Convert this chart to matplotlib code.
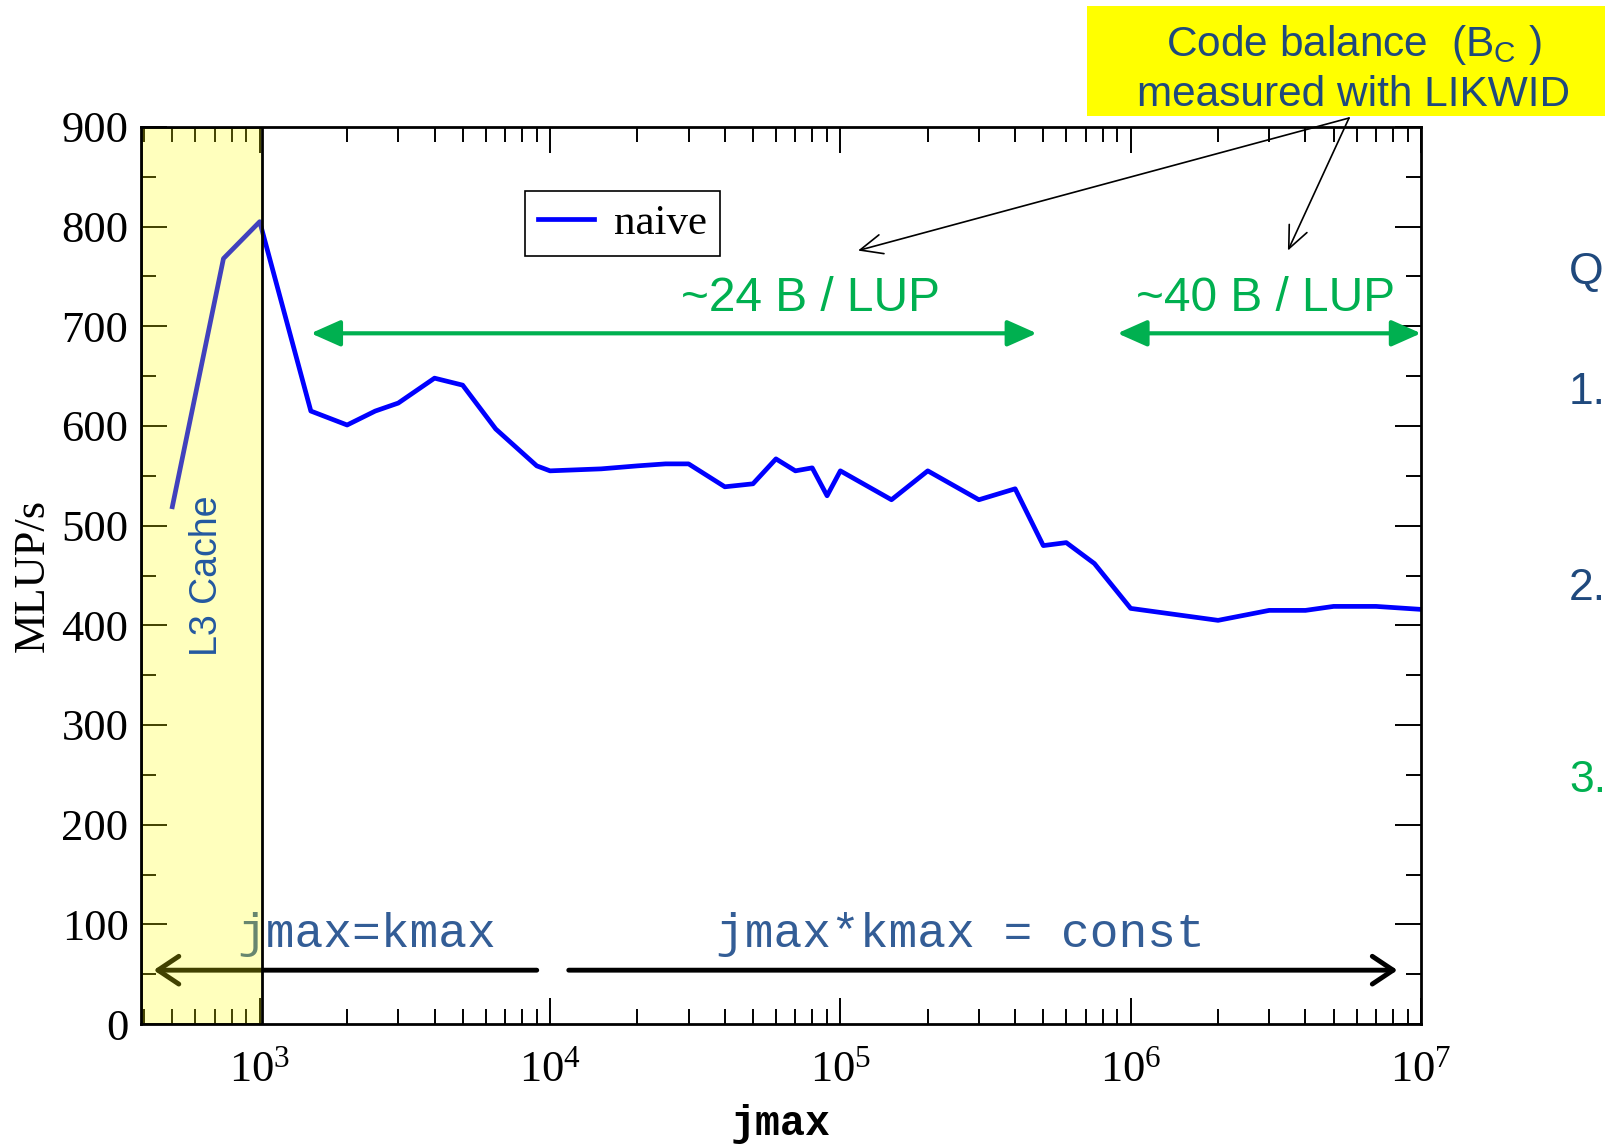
import numpy as np
import matplotlib
matplotlib.use('Agg')
import matplotlib.pyplot as plt
from matplotlib.patches import Rectangle
from matplotlib.ticker import LogLocator, MultipleLocator, NullFormatter

# naive kernel, performance vs. inner dimension
jmax = [500, 750, 1000, 1500, 2000, 2500, 3000, 4000, 5000, 6500, 9000,
        10000, 15000, 20000, 25000, 30000, 40000, 50000, 60000, 70000,
        80000, 90000, 100000, 150000, 200000, 300000, 400000, 500000,
        600000, 750000, 1000000, 2000000, 3000000, 4000000, 5000000,
        7000000, 10000000]
mlups = [519, 768, 805, 615, 601, 615, 623, 648, 641, 597, 560,
         555, 557, 560, 562, 562, 539, 542, 567, 555,
         558, 530, 555, 526, 555, 526, 537, 480,
         483, 462, 417, 405, 415, 415, 419,
         419, 416]
series_name = 'naive'

# regions marked on the plot
l3_end = 1020
range_24 = (1500, 4.75e5)
range_40 = (9.0e5, 1.0e7)
range_square = (431, 9000)
range_const = (11600, 8.3e6)

W, H = 1605, 1146
def fx(x):
    return x / W
def fy(y):
    return 1 - y / H

DARKBLUE = '#1F497D'
GREEN = '#00B050'
CODEBLUE = '#335D96'

plt.rcParams['font.family'] = 'Liberation Serif'
plt.rcParams['mathtext.default'] = 'regular'

fig = plt.figure(figsize=(W / 100, H / 100), dpi=100)
ax = fig.add_axes([fx(141), fy(1024), fx(1421) - fx(141), fy(127) - fy(1024)])

ax.plot(jmax, mlups, color='#0000FF', lw=3.4, label=series_name, zorder=2)

ax.set_xscale('log')
ax.set_xlim(390, 1e7)
ax.set_ylim(0, 900)
ax.yaxis.set_major_locator(MultipleLocator(100))
ax.yaxis.set_minor_locator(MultipleLocator(50))
ax.xaxis.set_minor_locator(LogLocator(base=10, subs=np.arange(2, 10)))
ax.xaxis.set_minor_formatter(NullFormatter())
ax.tick_params(which='both', direction='in', top=True, right=True,
               width=1.4, color='black', labelsize=32)
ax.tick_params(which='major', length=19)
ax.tick_params(which='minor', length=10.5)
ax.tick_params(axis='y', pad=9)
ax.tick_params(axis='x', pad=19)
for s in ax.spines.values():
    s.set_linewidth(2)

ax.set_xlabel('jmax', family='Liberation Mono', fontweight='bold',
              fontsize=30, labelpad=10)
ax.set_ylabel('MLUP/s', fontsize=32, labelpad=6)

leg = ax.legend(loc='upper left', bbox_to_anchor=(0.3, 0.929),
                borderaxespad=0, fancybox=False, edgecolor='black',
                framealpha=1, handlelength=1.3, borderpad=0.3,
                handletextpad=0.47, fontsize=31)
leg.get_frame().set_linewidth(1.2)

# bandwidth ranges
green_arrow = dict(arrowstyle='<|-|>,head_length=0.9,head_width=0.4',
                   mutation_scale=20, color=GREEN, lw=3,
                   shrinkA=0, shrinkB=0)
ax.annotate('', xy=(range_24[0], 693), xytext=(range_24[1], 693),
            arrowprops=green_arrow)
ax.annotate('', xy=(range_40[0], 693), xytext=(range_40[1], 693),
            arrowprops=green_arrow, annotation_clip=False)
ax.text(7.9e4, 728, '~24 B / LUP', ha='center', va='center',
        family='Liberation Sans', fontsize=34.5, color=GREEN)
ax.text(2.92e6, 728, '~40 B / LUP', ha='center', va='center',
        family='Liberation Sans', fontsize=34.5, color=GREEN)

# problem size regimes
black_arrow = dict(arrowstyle='->,head_length=0.6,head_width=0.4',
                   mutation_scale=25, color='black', lw=3.5,
                   shrinkA=0, shrinkB=0)
ax.annotate('', xy=(range_square[0], 54), xytext=(range_square[1], 54),
            arrowprops=black_arrow)
ax.annotate('', xy=(range_const[1], 54), xytext=(range_const[0], 54),
            arrowprops=black_arrow)
ax.text(836, 90, 'jmax=kmax', ha='left', va='center',
        family='Liberation Mono', fontsize=34.5, color=CODEBLUE)
ax.text(37400, 90, 'jmax*kmax = const', ha='left', va='center',
        family='Liberation Mono', fontsize=34.5, color=CODEBLUE)

# L3 cache shading
ax.axvspan(ax.get_xlim()[0], l3_end, facecolor=(1, 1, 0, 0.26),
           edgecolor='black', lw=2, zorder=4)
ax.text(658, 450, 'L3 Cache', rotation=90, ha='center', va='center',
        family='Liberation Sans', fontsize=27, color='#2358A0', zorder=6)

# code balance callout
fig.add_artist(Rectangle((fx(1087), fy(116)), fx(W) - fx(1087) + 0.01,
                         110 / H, transform=fig.transFigure,
                         facecolor='#FFFF00', edgecolor='none', zorder=0))
fig.text(fx(1354), fy(45), r'Code balance  ($\mathregular{B_C}$ )',
         ha='center', va='center', family='Liberation Sans', fontsize=30.5,
         color=DARKBLUE)
fig.text(fx(1354), fy(95), 'measured with LIKWID', ha='center', va='center',
         family='Liberation Sans', fontsize=30.5, color=DARKBLUE)
thin_arrow = dict(arrowstyle='->,head_length=0.8,head_width=0.35',
                  mutation_scale=20, color='black', lw=1.2,
                  shrinkA=0, shrinkB=0)
ax.annotate('', xy=(1.15e5, 776), xytext=(5.65e6, 909),
            arrowprops=thin_arrow, annotation_clip=False)
ax.annotate('', xy=(3.48e6, 776), xytext=(5.65e6, 909),
            arrowprops=thin_arrow, annotation_clip=False)

# side list
for label, ypos, col in [('Q', 272, DARKBLUE), ('1.', 393, DARKBLUE),
                         ('2.', 589, DARKBLUE), ('3.', 781, GREEN)]:
    fig.text(fx(1569), fy(ypos), label, ha='left', va='center',
             family='Liberation Sans', fontsize=32, color=col)

fig.savefig('out.png', dpi=100)
